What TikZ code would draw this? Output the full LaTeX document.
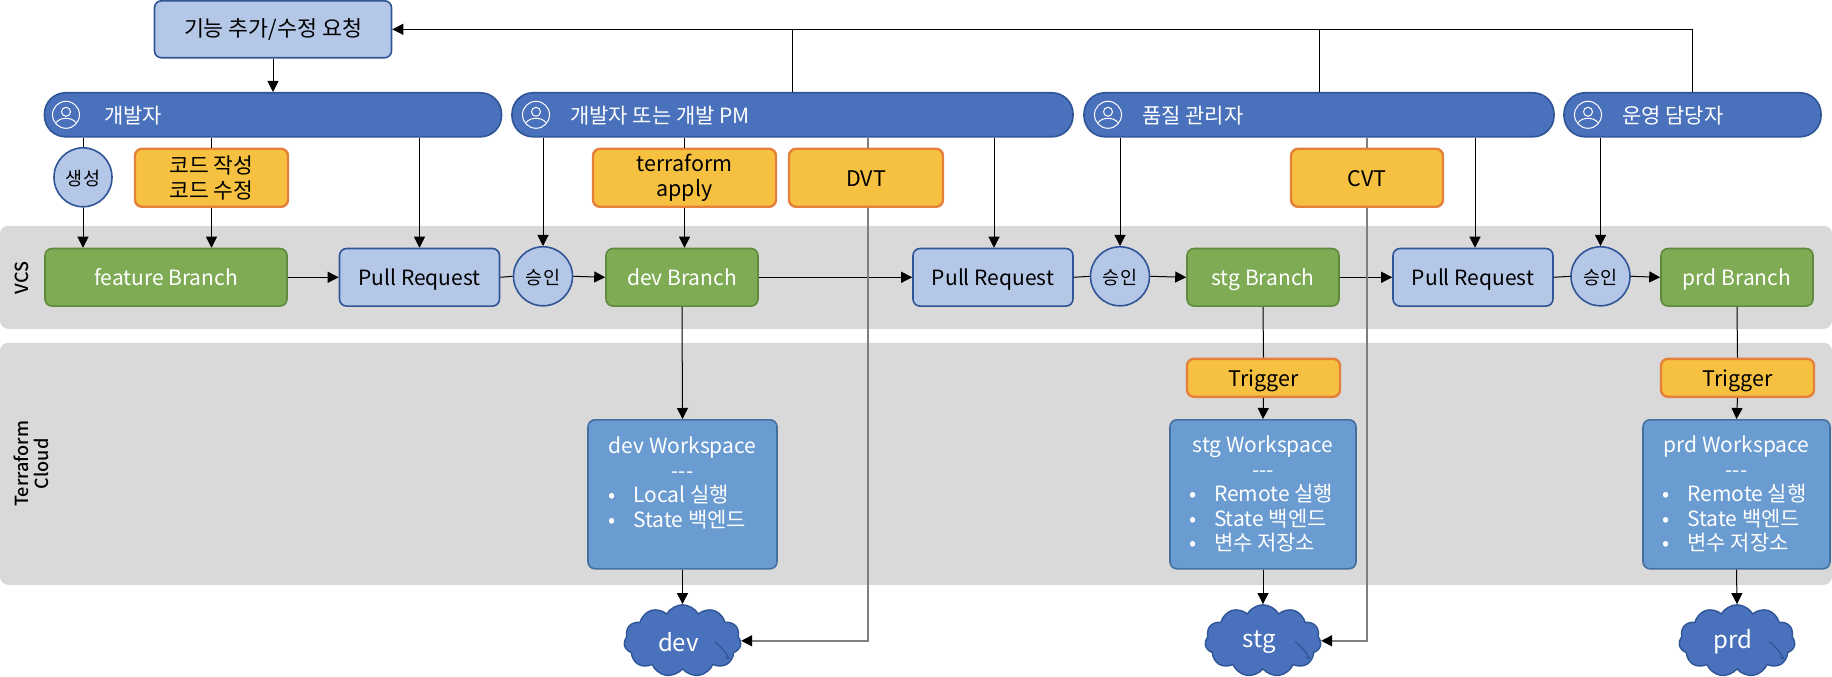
\documentclass[tikz,border=0pt]{standalone}
\usepackage{fontspec}
\setmainfont{Noto Sans CJK KR}
\newfontfamily\lanefont{Noto Sans CJK KR Medium}
\usetikzlibrary{arrows.meta,scopes,shapes.symbols,shapes.geometric}
\definecolor{bandgray}{HTML}{D9D9D9}
\definecolor{pillblue}{HTML}{4A71BC}
\definecolor{pillline}{HTML}{2F5597}
\definecolor{lightblue}{HTML}{B4C7E7}
\definecolor{branchgreen}{HTML}{7FAB55}
\definecolor{branchline}{HTML}{5F8A3E}
\definecolor{noteyellow}{HTML}{F6C141}
\definecolor{noteline}{HTML}{E4803A}
\definecolor{wsblue}{HTML}{6A9BD1}
\definecolor{wsline}{HTML}{44709F}
\definecolor{testgray}{HTML}{7F7F7F}
\newcommand{\wsitem}[1]{\makebox[148pt][l]{\makebox[25pt][l]{\textbullet}#1}}
\begin{document}
\begin{tikzpicture}[
    x=1pt,y=-1pt,
    flow/.style={>={Triangle[length=11pt,width=11pt]},draw=black,line width=1pt},
    test/.style={>={Triangle[length=11pt,width=11pt,color=black]},draw=testgray,line width=1.4pt},
    band/.style={fill=bandgray,draw=none},
    oneline/.style={text height=18pt,text depth=1pt},
    box/.style={rectangle,rounded corners=7pt,line width=1.6pt,inner sep=0pt,font=\fontsize{21}{25}\selectfont},
    request/.style={box,draw=pillline,fill=lightblue,font=\fontsize{21.7}{26}\selectfont},
    pill/.style={rectangle,rounded corners=21pt,draw=pillline,fill=pillblue,line width=1.6pt,minimum height=44pt,inner sep=0pt},
    pilltext/.style={anchor=west,text=white,inner sep=0pt,font=\fontsize{21}{25}\selectfont},
    branch/.style={box,oneline,draw=branchline,fill=branchgreen,text=white,minimum height=57.5pt},
    pullreq/.style={box,oneline,draw=pillline,fill=lightblue,minimum height=57.5pt},
    note/.style={box,draw=noteline,fill=noteyellow,line width=2.4pt,align=center,font=\fontsize{21.5}{25}\selectfont},
    approve/.style={ellipse,oneline,draw=pillline,fill=lightblue,line width=1.6pt,inner sep=0pt,font=\fontsize{18.5}{22}\selectfont},
    workspace/.style={box,draw=wsline,fill=wsblue,text=white,minimum height=149pt,align=center,font=\fontsize{21}{24.5}\selectfont},
    target/.style={cloud,cloud puffs=11,cloud puff arc=120,aspect=1.6,draw=pillline,fill=pillblue,line width=1.4pt},
    cloudtext/.style={text=white,inner sep=0pt,font=\fontsize{24}{28}\selectfont},
    icon/.style={circle,draw=white,line width=1pt,minimum size=27pt,inner sep=0pt},
    lane/.style={font=\lanefont\fontsize{18}{20}\selectfont,rotate=90,align=center}
]
    % bands
    \fill[band,rounded corners=8pt] (0,226) rectangle (1832,329);
    \fill[band,rounded corners=8pt] (0,343) rectangle (1832,585);
    \node[lane] (vcs) at (22,278) {VCS};
    \node[lane] (tfc) at (31,464) {Terraform\\Cloud};

    % request and people
    \node[request,minimum width=237pt,minimum height=57pt] (req) at (273,29.5) {기능 추가/수정 요청};
    \node[pill,minimum width=457pt] (dev1) at (273,115) {};
    \node[pill,minimum width=561pt] (dev2) at (792.5,115) {};
    \node[pill,minimum width=470pt] (qa) at (1319,115) {};
    \node[pill,minimum width=257pt] (ops) at (1692.5,115) {};
    \node[pilltext] (dev1text) at (104,116) {개발자};
    \node[pilltext] (dev2text) at (570,116) {개발자 또는 개발 PM};
    \node[pilltext] (qatext) at (1142,116) {품질 관리자};
    \node[pilltext] (opstext) at (1622,116) {운영 담당자};
    \foreach \n/\x in {a/66,b/536,c/1108,d/1588}{
        \node[icon] (icon\n) at (\x,115) {};
        \draw[white,line width=1pt] (\x,112) circle (4.5pt);
        \draw[white,line width=1pt] (\x-10,123) .. controls (\x-6,117) and (\x+6,117) .. (\x+10,123);
    }

    % notes
    \node[approve,minimum width=58pt,minimum height=59pt] (create) at (83,177.5) {생성};
    \node[note,minimum width=153pt,minimum height=58pt] (code) at (211.5,178) {코드 작성\\코드 수정};
    \node[note,minimum width=183pt,minimum height=58pt] (apply) at (684.5,178) {terraform\\apply};
    \node[note,oneline,minimum width=154pt,minimum height=58pt] (dvt) at (866,178) {DVT};
    \node[note,oneline,minimum width=152pt,minimum height=58pt] (cvt) at (1367,178) {CVT};

    % vcs row
    \node[branch,minimum width=242pt] (feature) at (166,277.5) {feature Branch};
    \node[pullreq,minimum width=160pt] (pra) at (419.5,277.5) {Pull Request};
    \node[approve,minimum width=59pt,minimum height=59pt] (oka) at (543,276.5) {승인};
    \node[branch,minimum width=152pt] (devb) at (682,277.5) {dev Branch};
    \node[pullreq,minimum width=160pt] (prb) at (993,277.5) {Pull Request};
    \node[approve,minimum width=59pt,minimum height=59pt] (okb) at (1120,276.5) {승인};
    \node[branch,minimum width=152pt] (stgb) at (1263,277.5) {stg Branch};
    \node[pullreq,minimum width=160pt] (prc) at (1473,277.5) {Pull Request};
    \node[approve,minimum width=59pt,minimum height=59pt] (okc) at (1600.5,276.5) {승인};
    \node[branch,minimum width=152pt] (prdb) at (1737,277.5) {prd Branch};

    % clouds
    \node[target,minimum width=117pt,minimum height=72pt] (cdev) at (682.5,641) {};
    \node[target,minimum width=116pt,minimum height=72pt] (cstg) at (1263,641) {};
    \node[target,minimum width=116pt,minimum height=72pt] (cprd) at (1737,641) {};
    \foreach \c/\t in {cdev/dev,cstg/stg,cprd/prd}{
        \node[cloudtext] (\c text) at ([shift={(-4,1)}]\c.center) {\t};
        % fold of the cloud
        \draw[pillline,line width=1.2pt] ([shift={(32,1)}]\c.center) .. controls +(6,3) and +(10,8) .. +(11,15);
    }

    % terraform cloud row
    \node[note,oneline,minimum width=153pt,minimum height=38pt] (trigs) at (1263.5,378) {Trigger};
    \node[note,oneline,minimum width=153pt,minimum height=38pt] (trigp) at (1737.5,378) {Trigger};
    \node[workspace,minimum width=189pt] (wsdev) at (682.5,494.5) {dev Workspace\\-{}-{}-\\\wsitem{Local 실행}\\\wsitem{State 백엔드}\\\mbox{}};
    \node[workspace,minimum width=186pt] (wsstg) at (1263,494.5) {stg Workspace\\-{}-{}-\\\wsitem{Remote 실행}\\\wsitem{State 백엔드}\\\wsitem{변수 저장소}};
    \node[workspace,minimum width=187pt] (wsprd) at (1736.5,494.5) {prd Workspace\\-{}-{}-\\\wsitem{Remote 실행}\\\wsitem{State 백엔드}\\\wsitem{변수 저장소}};

    % connectors
    {[flow,->]
        \draw (req.south) -- (dev1.north);
        \draw (ops.north) |- (req.east);
        \draw (create.south) -- (create.south |- feature.north);
        \draw (code.south) -- (code.south |- feature.north);
        \draw (apply.south) -- (apply.south |- devb.north);
        \draw (pra.north |- dev1.south) -- (pra.north);
        \draw (oka.north |- dev2.south) -- (oka.north);
        \draw ([xshift=1pt]prb.north |- dev2.south) -- ([xshift=1pt]prb.north);
        \draw (okb.north |- qa.south) -- (okb.north);
        \draw ([xshift=2pt]prc.north |- qa.south) -- ([xshift=2pt]prc.north);
        \draw (okc.north |- ops.south) -- (okc.north);
        \draw (feature.east) -- (pra.west);
        \draw (oka.east) -- (devb.west);
        \draw (devb.east) -- (prb.west);
        \draw (okb.east) -- (stgb.west);
        \draw (stgb.east) -- (prc.west);
        \draw (okc.east) -- (prdb.west);
        \draw (devb.south) -- (wsdev.north);
        \draw (trigs.south) -- (wsstg.north);
        \draw (trigp.south) -- (wsprd.north);
        \draw (wsdev.south) -- (cdev.north);
        \draw (wsstg.south) -- (cstg.north);
        \draw (wsprd.south) -- (cprd.north);
    }
    {[flow]
        \draw (dev2.north) -- (dev2.north |- req.east);
        \draw (qa.north) -- (qa.north |- req.east);
        \draw (create.north |- dev1.south) -- (create.north);
        \draw (code.north |- dev1.south) -- (code.north);
        \draw (apply.north |- dev2.south) -- (apply.north);
        \draw (pra.east) -- (oka.west);
        \draw (prb.east) -- (okb.west);
        \draw (prc.east) -- (okc.west);
        \draw (stgb.south) -- (trigs.north);
        \draw (prdb.south) -- (trigp.north);
    }
    {[test]
        \draw ([xshift=2pt]dvt.north |- dev2.south) -- ([xshift=2pt]dvt.north);
        \draw (cvt.north |- qa.south) -- (cvt.north);
    }
    {[test,->]
        \draw ([xshift=2pt]dvt.south) |- (cdev.east);
        \draw (cvt.south) |- (cstg.east);
    }
\end{tikzpicture}
\end{document}
